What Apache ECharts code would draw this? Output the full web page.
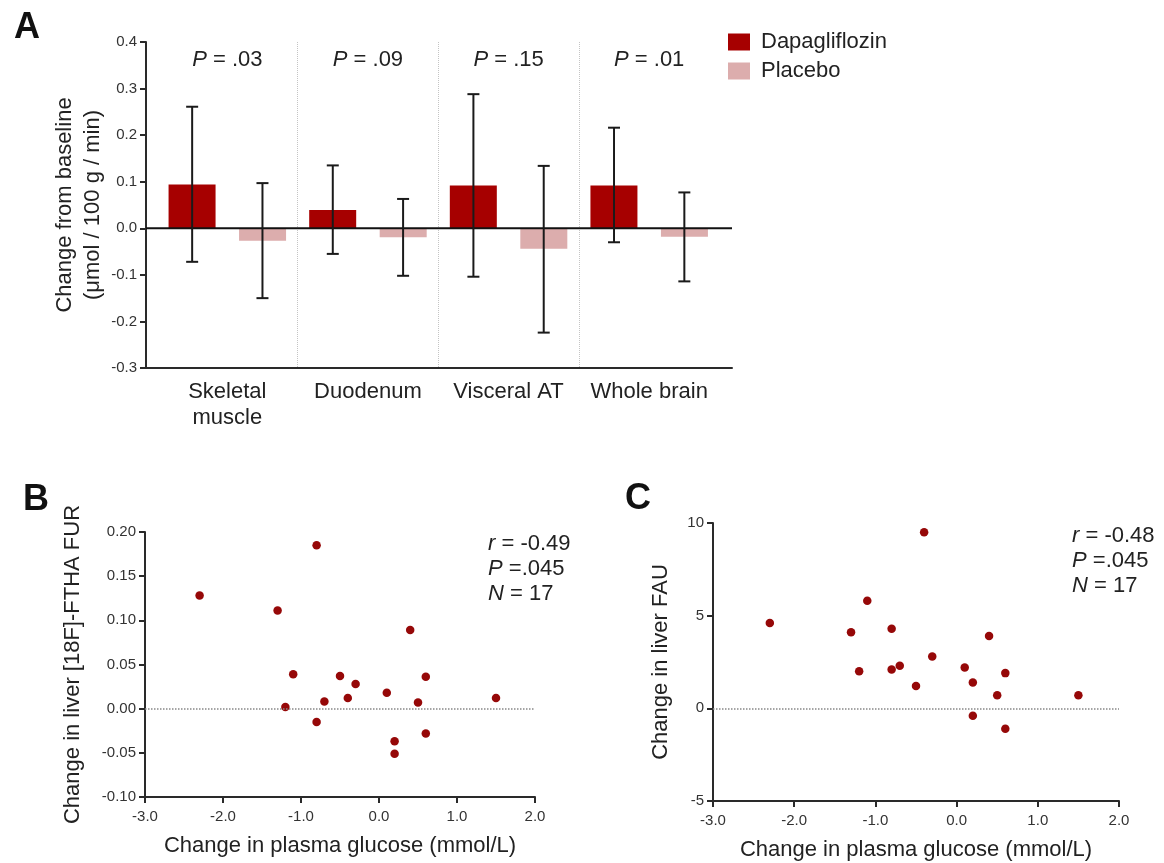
<!DOCTYPE html>
<html><head><meta charset="utf-8">
<script src="https://cdn.jsdelivr.net/npm/echarts@6/dist/echarts.min.js"></script>
<style>html,body{margin:0;padding:0;background:#fff}#c{width:1164px;height:863px}</style>
</head><body><div id="c"></div>
<script>
// ---- Panel A data ----
const categories = ['Skeletal\nmuscle', 'Duodenum', 'Visceral AT', 'Whole brain'];
const dapaMean = [0.094, 0.039, 0.092, 0.092];
const dapaLow  = [-0.072, -0.055, -0.104, -0.030];
const dapaHigh = [0.261, 0.135, 0.288, 0.216];
const placMean = [-0.027, -0.019, -0.044, -0.018];
const placLow  = [-0.150, -0.102, -0.224, -0.114];
const placHigh = [0.097, 0.063, 0.134, 0.077];
const pValues  = ['.03', '.09', '.15', '.01'];
const pLabelY  = 0.362;
// ---- Panel B data ----
const glucoseB = [-2.3, -0.8, -1.3, 0.4, -1.1, -0.5, -0.3, 0.6, 0.1, -0.4, -0.7, 0.5, 1.5, -1.2, -0.8, 0.2, 0.2, 0.6];
const furB     = [0.128, 0.185, 0.111, 0.089, 0.039, 0.037, 0.028, 0.036, 0.018, 0.012, 0.008, 0.007, 0.012, 0.002, -0.015, -0.037, -0.051, -0.028];
// ---- Panel C data ----
const glucoseC = [-2.3, -0.4, -1.1, -1.3, -0.8, 0.4, -0.3, -1.2, -0.8, -0.7, 0.1, 0.6, 0.2, -0.5, 0.5, 1.5, 0.2, 0.6];
const fauC     = [4.6, 9.5, 5.8, 4.1, 4.3, 3.9, 2.8, 2.0, 2.1, 2.3, 2.2, 1.9, 1.4, 1.2, 0.7, 0.7, -0.4, -1.1];

const FONT = '"Liberation Sans", Arial, sans-serif';
const TXT = '#222';
const AX = '#2a2a2a';
const DAPA = '#a60000';
const PLAC = '#dcadad';
const DOT = '#960808';

const chart = echarts.init(document.getElementById('c'));

function errRender(sign) {
  return function (params, api) {
    const i = api.value(0);
    const lo = api.coord([i, api.value(1)]);
    const hi = api.coord([i, api.value(2)]);
    const band = api.size([1, 0])[0];
    const x = lo[0] + sign * band * 0.25;
    const cap = 6;
    const st = { stroke: '#1a1a1a', lineWidth: 2 };
    return { type: 'group', children: [
      { type: 'line', shape: { x1: x, y1: lo[1], x2: x, y2: hi[1] }, style: st },
      { type: 'line', shape: { x1: x - cap, y1: lo[1], x2: x + cap, y2: lo[1] }, style: st },
      { type: 'line', shape: { x1: x - cap, y1: hi[1], x2: x + cap, y2: hi[1] }, style: st }
    ] };
  };
}

const axisLineStyle = { show: true, onZero: false, lineStyle: { color: AX, width: 2 } };
const tickStyle = { show: true, length: 6, lineStyle: { color: AX, width: 2 } };
const tickLabel = (dec) => ({ fontFamily: FONT, fontSize: 15, color: '#333', formatter: v => Number(v).toFixed(dec) });
const statStyle = { fontFamily: FONT, fontSize: 22, lineHeight: 25, color: TXT, fontWeight: 'normal',
  rich: { i: { fontFamily: FONT, fontStyle: 'italic', fontSize: 22, lineHeight: 25, color: TXT } } };
const letterStyle = { fontFamily: FONT, fontSize: 36, fontWeight: 'bold', color: '#111' };
const nameStyle = { fontFamily: FONT, fontSize: 22, color: TXT };

const option = {
  animation: false,
  backgroundColor: '#fff',
  textStyle: { fontFamily: FONT },
  title: [
    { text: 'A', left: 14, top: 10, padding: 0, textStyle: letterStyle },
    { text: 'B', left: 23, top: 482, padding: 0, textStyle: letterStyle },
    { text: 'C', left: 625, top: 481, padding: 0, textStyle: letterStyle },
    { text: '{i|r} = -0.49\n{i|P} =.045\n{i|N} = 17', left: 488, top: 531, padding: 0, textStyle: statStyle },
    { text: '{i|r} = -0.48\n{i|P} =.045\n{i|N} = 17', left: 1072, top: 523, padding: 0, textStyle: statStyle }
  ],
  legend: {
    data: ['Dapagliflozin', 'Placebo'], orient: 'vertical', left: 728, top: 31, padding: 0,
    icon: 'rect', itemWidth: 22, itemHeight: 17, itemGap: 7,
    textStyle: { fontFamily: FONT, fontSize: 22, color: TXT, padding: [0, 0, 0, 6] }
  },
  grid: [
    { left: 146, top: 42, width: 586, height: 326 },
    { left: 157, top: 42, width: 562.5, height: 326 },
    { left: 145, top: 532, width: 390, height: 265 },
    { left: 713, top: 523, width: 406, height: 278 }
  ],
  xAxis: [
    { gridIndex: 0, type: 'value', min: 0, max: 1, axisLine: axisLineStyle, axisTick: { show: false }, axisLabel: { show: false }, splitLine: { show: false } },
    { gridIndex: 1, type: 'category', data: categories, axisLine: { show: false }, axisTick: { show: false },
      axisLabel: { fontFamily: FONT, fontSize: 22, lineHeight: 26, color: TXT, margin: 11, interval: 0 },
      splitLine: { show: true, showMinLine: false, showMaxLine: false, lineStyle: { color: '#c4c4c4', type: 'dotted', width: 1 } } },
    { gridIndex: 2, type: 'value', min: -3, max: 2, interval: 1, axisLine: axisLineStyle, axisTick: tickStyle, axisLabel: Object.assign(tickLabel(1), { margin: 12 }), splitLine: { show: false },
      name: 'Change in plasma glucose (mmol/L)', nameLocation: 'middle', nameGap: 38, nameMoveOverlap: false, nameTextStyle: nameStyle },
    { gridIndex: 3, type: 'value', min: -3, max: 2, interval: 1, axisLine: axisLineStyle, axisTick: tickStyle, axisLabel: Object.assign(tickLabel(1), { margin: 12 }), splitLine: { show: false },
      name: 'Change in plasma glucose (mmol/L)', nameLocation: 'middle', nameGap: 38, nameMoveOverlap: false, nameTextStyle: nameStyle }
  ],
  yAxis: [
    { gridIndex: 0, type: 'value', min: -0.3, max: 0.4, interval: 0.1, axisLine: axisLineStyle, axisTick: tickStyle,
      axisLabel: Object.assign(tickLabel(1), { margin: 9 }), splitLine: { show: false },
      name: 'Change from baseline\n(μmol / 100 g / min)', nameLocation: 'middle', nameGap: 39, nameRotate: 90, nameMoveOverlap: false,
      nameTextStyle: { fontFamily: FONT, fontSize: 22, lineHeight: 28, color: TXT } },
    { gridIndex: 1, type: 'value', min: -0.3, max: 0.4, interval: 0.1, show: false },
    { gridIndex: 2, type: 'value', min: -0.1, max: 0.2, interval: 0.05, axisLine: axisLineStyle, axisTick: tickStyle,
      axisLabel: Object.assign(tickLabel(2), { margin: 9 }), splitLine: { show: false },
      name: 'Change in liver [18F]-FTHA FUR', nameLocation: 'middle', nameGap: 61, nameRotate: 90, nameMoveOverlap: false,
      nameTextStyle: nameStyle },
    { gridIndex: 3, type: 'value', min: -5, max: 10, interval: 5, axisLine: axisLineStyle, axisTick: tickStyle,
      axisLabel: Object.assign(tickLabel(0), { margin: 9 }), splitLine: { show: false },
      name: 'Change in liver FAU', nameLocation: 'middle', nameGap: 41, nameRotate: 90, nameMoveOverlap: false,
      nameTextStyle: nameStyle }
  ],
  series: [
    { name: 'Dapagliflozin', type: 'bar', xAxisIndex: 1, yAxisIndex: 1, data: dapaMean, barWidth: 47, barGap: '50%',
      itemStyle: { color: DAPA }, z: 2 },
    { name: 'Placebo', type: 'bar', xAxisIndex: 1, yAxisIndex: 1, data: placMean, barWidth: 47, barGap: '50%',
      itemStyle: { color: PLAC }, z: 2 },
    { type: 'line', xAxisIndex: 0, yAxisIndex: 0, data: [[0, 0], [1, 0]], symbol: 'none',
      lineStyle: { color: '#111', width: 2 }, z: 3, silent: true },
    { type: 'custom', xAxisIndex: 1, yAxisIndex: 1, renderItem: errRender(-1),
      data: categories.map((c, i) => [i, dapaLow[i], dapaHigh[i]]), z: 4 },
    { type: 'custom', xAxisIndex: 1, yAxisIndex: 1, renderItem: errRender(1),
      data: categories.map((c, i) => [i, placLow[i], placHigh[i]]), z: 4 },
    { type: 'scatter', xAxisIndex: 1, yAxisIndex: 1, symbolSize: 0, silent: true, itemStyle: { opacity: 1 },
      data: categories.map((c, i) => [i, pLabelY]),
      label: { show: true, position: 'inside', fontFamily: FONT, fontSize: 22, color: TXT, opacity: 1,
        formatter: p => '{i|P} = ' + pValues[p.dataIndex],
        rich: { i: { fontFamily: FONT, fontStyle: 'italic', fontSize: 22, color: TXT } } } },
    { type: 'scatter', xAxisIndex: 2, yAxisIndex: 2, symbolSize: 8.5, itemStyle: { color: DOT, opacity: 1 },
      data: glucoseB.map((x, i) => [x, furB[i]]),
      markLine: { silent: true, symbol: ['none', 'none'], label: { show: false },
        lineStyle: { color: '#888', type: 'dotted', width: 1.5 }, data: [{ yAxis: 0 }] } },
    { type: 'scatter', xAxisIndex: 3, yAxisIndex: 3, symbolSize: 8.5, itemStyle: { color: DOT, opacity: 1 },
      data: glucoseC.map((x, i) => [x, fauC[i]]),
      markLine: { silent: true, symbol: ['none', 'none'], label: { show: false },
        lineStyle: { color: '#888', type: 'dotted', width: 1.5 }, data: [{ yAxis: 0 }] } }
  ]
};
chart.setOption(option);
</script>
</body></html>
